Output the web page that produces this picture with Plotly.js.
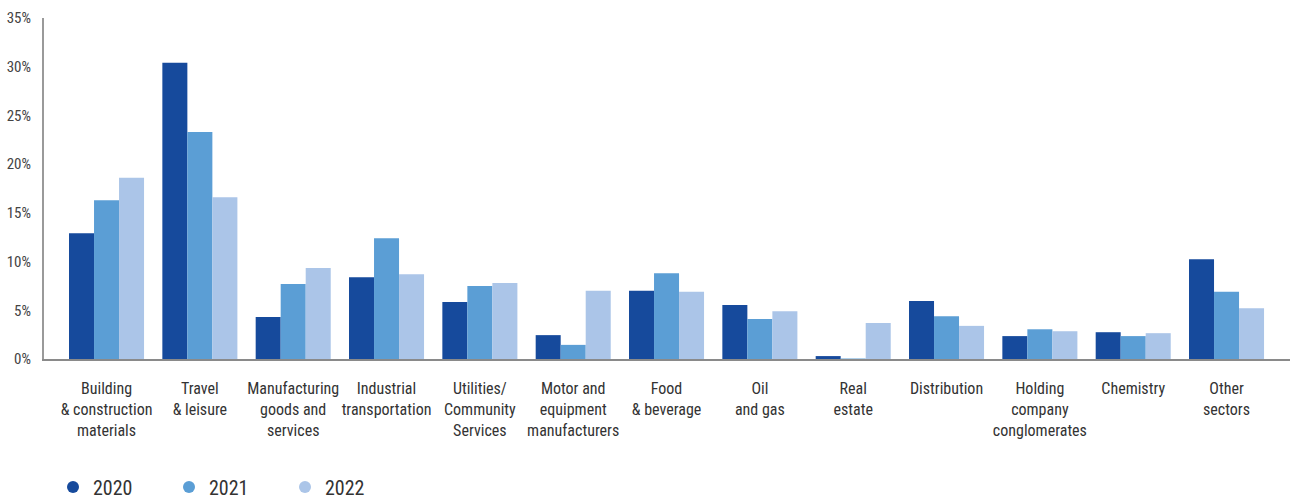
<!DOCTYPE html>
<html>
<head>
<meta charset="utf-8">
<script src="https://cdn.plot.ly/plotly-3.0.1.min.js"></script>
<style>
html,body{margin:0;padding:0;background:#fff;}
#chart{width:1290px;height:499px;}
</style>
</head>
<body>
<div id="chart"></div>
<script>
const categories = [
  "Building<br>& construction<br>materials",
  "Travel<br>& leisure",
  "Manufacturing<br>goods and<br>services",
  "Industrial<br>transportation",
  "Utilities/<br>Community<br>Services",
  "Motor and<br>equipment<br>manufacturers",
  "Food<br>& beverage",
  "Oil<br>and gas",
  "Real<br>estate",
  "Distribution",
  "Holding<br>company<br>conglomerates",
  "Chemistry",
  "Other<br>sectors"
];
const years = ["2020", "2021", "2022"];
const values2020 = [12.9, 30.4, 4.3, 8.4, 5.85, 2.45, 7.0, 5.55, 0.3, 5.95, 2.35, 2.75, 10.25];
const values2021 = [16.3, 23.3, 7.7, 12.4, 7.5, 1.45, 8.8, 4.1, 0.05, 4.4, 3.05, 2.35, 6.9];
const values2022 = [18.6, 16.6, 9.35, 8.7, 7.8, 7.0, 6.9, 4.9, 3.7, 3.4, 2.85, 2.65, 5.2];
const colors = ["#164A9C", "#5B9ED5", "#ABC5E8"];
const seriesValues = [values2020, values2021, values2022];

const font = "Roboto Condensed";

const traces = [];
seriesValues.forEach((vals, i) => {
  traces.push({
    type: "bar",
    name: years[i],
    x: categories,
    y: vals,
    marker: {color: colors[i], line: {width: 0}},
    showlegend: false,
    hoverinfo: "x+y"
  });
});
years.forEach((yr, i) => {
  traces.push({
    type: "scatter",
    mode: "markers",
    name: yr,
    x: [categories[0]],
    y: [null],
    marker: {color: colors[i], size: 13, symbol: "circle"},
    showlegend: true
  });
});

const layout = {
  width: 1290,
  height: 499,
  margin: {l: 44, r: 0, t: 18, b: 140},
  paper_bgcolor: "#ffffff",
  plot_bgcolor: "#ffffff",
  font: {family: font, color: "#333333", size: 16},
  barmode: "group",
  bargap: 0.196,
  bargroupgap: 0,
  xaxis: {
    type: "category",
    range: [-0.67, 12.68],
    showline: true,
    linecolor: "#8a8a8a",
    linewidth: 2,
    showgrid: false,
    zeroline: false,
    ticks: "",
    tickangle: 0,
    tickfont: {family: font, size: 16, color: "#333333"},
    ticklabelstandoff: 14,
    fixedrange: true
  },
  yaxis: {
    range: [0, 35],
    dtick: 5,
    tick0: 0,
    ticksuffix: "%",
    showline: true,
    linecolor: "#9a9a9a",
    linewidth: 2,
    showgrid: false,
    zeroline: false,
    ticks: "",
    tickfont: {family: font, size: 15, color: "#444444"},
    ticklabelstandoff: 8,
    fixedrange: true
  },
  legend: {
    orientation: "h",
    xref: "paper",
    x: (53 - 44) / 1246,
    xanchor: "left",
    yref: "container",
    y: 12 / 499,
    yanchor: "middle",
    font: {family: font, size: 20, color: "#333333"},
    entrywidth: 71,
    entrywidthmode: "pixels",
    itemsizing: "constant",
    bgcolor: "rgba(0,0,0,0)"
  }
};

Plotly.newPlot("chart", traces, layout, {displayModeBar: false, staticPlot: true});
</script>
</body>
</html>
